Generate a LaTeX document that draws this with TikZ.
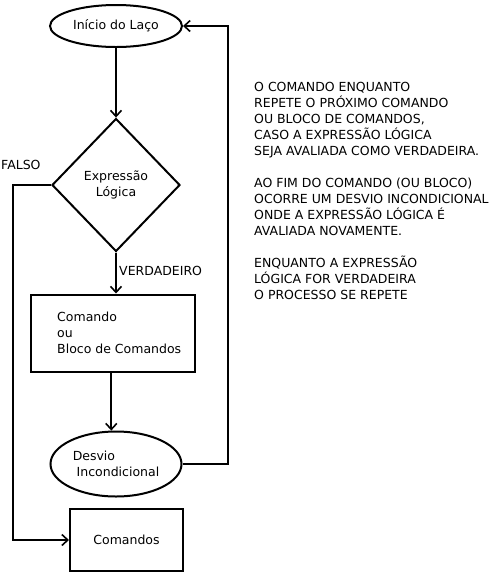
\documentclass[tikz,border=0pt]{standalone}
\usepackage{fontspec}
\setmainfont{DejaVu Sans}
\usetikzlibrary{shapes.geometric,arrows.meta}
\begin{document}
\begin{tikzpicture}[x=1pt,y=-1pt,
  every node/.style={font=\fontsize{12.5}{16}\selectfont},
  ln/.style={line width=2pt},
  arr/.style={ln,-{Straight Barb[length=6pt,width=11pt,line width=1.6pt]}},
  ell/.style={draw,ln,ellipse,inner sep=0pt},
  boxnode/.style={draw,ln,rectangle,inner sep=0pt},
  diam/.style={draw,ln,diamond,inner sep=0pt,align=center},
  lbl/.style={inner sep=0pt}]
\fill[white] (0,0) rectangle (495,574);
\useasboundingbox (0,0) rectangle (495,574);

\node[ell,minimum width=132pt,minimum height=42pt] (inicio) at (116,26) {Início do Laço};
\node[diam,minimum width=128pt,minimum height=133pt] (expr) at (116,185) {Expressão\\Lógica};
\node[boxnode,minimum width=164pt,minimum height=77pt,
  label={[align=left,anchor=west,label distance=-27pt,lbl]west:Comando\\ou\\Bloco de Comandos}] (cmd) at (113,333) {};
\node[ell,minimum width=131pt,minimum height=65pt,align=left] (desvio) at (116,464) {Desvio\\\ Incondicional};
\node[boxnode,minimum width=113pt,minimum height=62pt] (coms) at (126.5,540) {Comandos};

\node[lbl,anchor=west] (falso) at (1,165) {FALSO};
\node[lbl,anchor=west] (verd) at (119,271) {VERDADEIRO};

\node[lbl,anchor=north west,align=left] (texto) at (254,82) {O COMANDO ENQUANTO\\REPETE O PRÓXIMO COMANDO\\OU BLOCO DE COMANDOS,\\CASO A EXPRESSÃO LÓGICA\\SEJA AVALIADA COMO VERDADEIRA.\\[16pt]AO FIM DO COMANDO (OU BLOCO)\\OCORRE UM DESVIO INCONDICIONAL\\ONDE A EXPRESSÃO LÓGICA É\\AVALIADA NOVAMENTE.\\[16pt]ENQUANTO A EXPRESSÃO\\LÓGICA FOR VERDADEIRA\\O PROCESSO SE REPETE};

\coordinate (loopx) at (228,0);
\coordinate (falsex) at (13,0);

\draw[arr] (inicio.south) -- (expr.north);
\draw[arr] (expr.south) -- (expr.south |- cmd.north);
\draw[arr] (cmd.south -| desvio.98) -- (desvio.98);
\draw[arr] (desvio.east) -- (desvio.east -| loopx) -- (inicio.east -| loopx) -- (inicio.east);
\draw[arr] (expr.west) -- (expr.west -| falsex) -- (coms.west -| falsex) -- (coms.west);
\end{tikzpicture}
\end{document}
